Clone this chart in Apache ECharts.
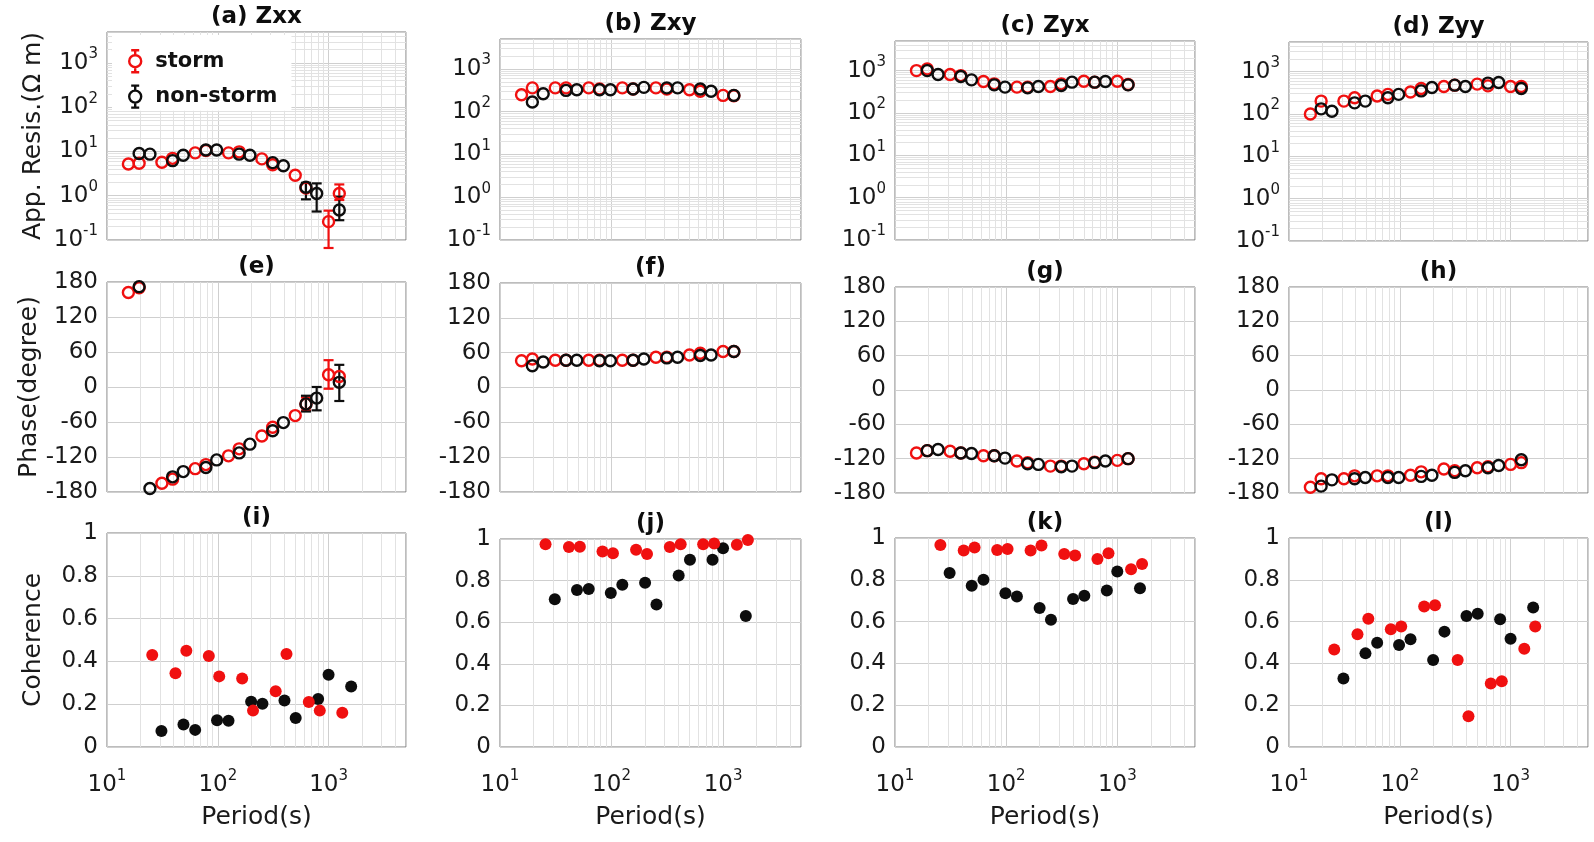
<!DOCTYPE html>
<html>
<head>
<meta charset="utf-8">
<title>Storm vs non-storm MT responses</title>
<script src="https://cdn.jsdelivr.net/npm/echarts/dist/echarts.min.js"></script>
<style>
  html, body { margin: 0; padding: 0; background: #fff; }
  #main { width: 1594px; height: 842px; }
</style>
</head>
<body>
<div id="main"></div>
<script>
// periods (s) of the impedance estimates
var periodStorm = [15.6, 19.5, 31.3, 39.1, 62.5, 78.1, 125, 156, 250, 313, 500, 625, 1000, 1250];
var periodCalm = [19.5, 24.4, 39.1, 48.8, 78.1, 97.7, 156, 195, 313, 391, 625, 781, 1250];

// apparent resistivity (ohm m)
var rhoXXStorm = [5.2, 5.4, 5.7, 7.0, 9.3, 10.5, 9.3, 9.8, 6.8, 5.0, 2.9, 1.5, 0.26, 1.12];
var rhoXXCalm = [9.0, 8.7, 6.2, 8.2, 10.8, 10.8, 8.7, 8.2, 5.6, 4.75, 1.55, 1.12, 0.475];
var rhoXYStorm = [248, 360, 360, 360, 360, 340, 360, 340, 360, 340, 325, 300, 240, 235];
var rhoXYCalm = [168, 263, 314, 325, 325, 325, 340, 370, 360, 360, 340, 300, 240];
var rhoYXStorm = [1000, 1090, 806, 763, 552, 487, 407, 407, 422, 487, 562, 533, 562, 470];
var rhoYXCalm = [1000, 806, 723, 604, 461, 407, 392, 422, 445, 533, 533, 552, 461];
var rhoYYStorm = [100, 201, 201, 242, 265, 290, 331, 398, 444, 479, 506, 461, 444, 444];
var rhoYYCalm = [132, 116, 183, 201, 242, 290, 350, 421, 479, 444, 535, 555, 398];

// error bars [low, high], only where they show
var rhoXXStormErr = [null, null, null, null, null, null, null, null, null, null, null, null, [0.066, 0.46], [0.8, 1.8]];
var rhoXXCalmErr = [null, null, null, null, null, null, null, null, null, null, [0.83, 1.96], [0.44, 1.9], [0.28, 0.95]];

// phase (degree)
var phaseXXStorm = [162, 170, -165, -158, -140, -133, -118, -106, -84, -69, -49, -29, 21, 18];
var phaseXXCalm = [172, -174, -154, -145, -138, -125, -113, -98, -75, -61, -29, -19, 8];
var phaseXYStorm = [46, 49, 47, 47, 47, 47, 47, 47, 52, 52, 56, 59, 62, 62];
var phaseXYCalm = [37.5, 44, 47, 47, 46, 46, 47, 49, 51, 52, 55, 56, 62];
var phaseYXStorm = [-110, -106, -107, -110, -115, -115, -124, -127, -133, -133, -129, -126, -123, -120];
var phaseYXCalm = [-106, -104, -110, -111, -115, -119, -129, -130, -134, -133, -127, -124, -120];
var phaseYYStorm = [-170, -155, -155, -150, -150, -150, -149, -143, -138, -141, -136, -134, -130, -127];
var phaseYYCalm = [-168, -157, -155, -153, -153, -153, -151, -149, -144, -141, -136, -132, -122];

var phaseXXStormErr = [null, null, null, null, null, null, null, null, null, null, null, [-40, -18], [-3, 46], null];
var phaseXXCalmErr = [null, null, null, null, null, null, null, null, null, null, [-42, -15], [-40, 0], [-24, 38]];

// coherence
var cohPeriodStorm = [25.6, 41.5, 52, 83, 103, 166, 208, 333, 417, 663, 833, 1330, 1670];
var cohPeriodCalm = [31, 49, 62.5, 98.5, 125, 200, 253, 400, 505, 805, 1000, 1600];
var cohXXStorm = [0.43, 0.345, 0.45, 0.425, 0.33, 0.32, 0.17, 0.26, 0.435, 0.21, 0.17, 0.16, null];
var cohXXCalm = [0.075, 0.105, 0.08, 0.125, 0.123, 0.212, 0.202, 0.217, 0.136, 0.224, 0.338, 0.283];
var cohXYStorm = [0.975, 0.962, 0.963, 0.94, 0.932, 0.948, 0.928, 0.962, 0.975, 0.975, 0.978, 0.972, 0.995];
var cohXYCalm = [0.71, 0.755, 0.76, 0.74, 0.78, 0.79, 0.685, 0.825, 0.9, 0.9, 0.955, 0.63];
var cohYXStorm = [0.967, 0.94, 0.955, 0.943, 0.947, 0.94, 0.964, 0.923, 0.916, 0.899, 0.927, 0.851, 0.876];
var cohYXCalm = [0.832, 0.771, 0.8, 0.736, 0.72, 0.665, 0.609, 0.708, 0.724, 0.749, 0.84, 0.76];
var cohYYStorm = [0.467, 0.539, 0.614, 0.563, 0.576, 0.672, 0.678, 0.416, 0.147, 0.304, 0.315, 0.47, 0.576];
var cohYYCalm = [0.328, 0.448, 0.499, 0.488, 0.515, 0.416, 0.552, 0.627, 0.638, 0.611, 0.518, 0.667];

var titles = ['(a) Zxx', '(b) Zxy', '(c) Zyx', '(d) Zyy', '(e)', '(f)', '(g)', '(h)', '(i)', '(j)', '(k)', '(l)'];

var FONT = 'DejaVu Sans';
var RED = '#f01010';
var BLACK = '#0d0d0d';
var TEXT = '#1a1a1a';

// subplot layout (px)
var colLeft = [107, 500, 895, 1289];
var colWidth = [299, 301, 300, 299];
var gridTop = [[32, 39, 41, 42], [282, 283, 287, 287], [533, 539, 538, 538]];
var gridBottom = [[240, 240, 240, 241], [492, 492, 493, 493], [747, 747, 747, 747]];

var chart = echarts.init(document.getElementById('main'));

var supRich = { sup: { fontFamily: FONT, fontSize: 15, lineHeight: 15, verticalAlign: 'top', color: TEXT } };

function decadeLabel(v) {
  var e = Math.log10(v);
  var r = Math.round(e);
  if (Math.abs(e - r) > 1e-3) return '';
  return '10{sup|' + r + '}';
}

function pairs(xs, ys) {
  var out = [];
  for (var k = 0; k < xs.length; k++) {
    if (ys[k] != null) out.push([xs[k], ys[k]]);
  }
  return out;
}

function errPairs(xs, errs) {
  var out = [];
  for (var k = 0; k < xs.length; k++) {
    if (errs[k]) out.push([xs[k], errs[k][0], errs[k][1]]);
  }
  return out;
}

// matlab style minor grid at 2..9 x decade
var minorX = [];
var minorY = [];
[10, 100, 1000].forEach(function (d) {
  for (var m = 2; m <= 9; m++) if (d * m < 5000) minorX.push(d * m);
});
[0.1, 1, 10, 100, 1000].forEach(function (d) {
  for (var m = 2; m <= 9; m++) if (d * m < 5000) minorY.push(d * m);
});

function gridMarks(row) {
  var data = minorX.map(function (v) { return { xAxis: v }; });
  if (row === 0) data = data.concat(minorY.map(function (v) { return { yAxis: v }; }));
  return {
    silent: true,
    z: 1,
    symbol: ['none', 'none'],
    label: { show: false },
    lineStyle: { color: '#e2e2e2', width: 1, type: 'solid' },
    animation: false,
    data: data
  };
}

function errorBar(color) {
  return function (params, api) {
    var hi = api.coord([api.value(0), api.value(2)]);
    var lo = api.coord([api.value(0), api.value(1)]);
    var s = { stroke: color, lineWidth: 2.2 };
    return {
      type: 'group',
      children: [
        { type: 'line', shape: { x1: hi[0], y1: hi[1], x2: lo[0], y2: lo[1] }, style: s },
        { type: 'line', shape: { x1: hi[0] - 5, y1: hi[1], x2: hi[0] + 5, y2: hi[1] }, style: s },
        { type: 'line', shape: { x1: lo[0] - 5, y1: lo[1], x2: lo[0] + 5, y2: lo[1] }, style: s }
      ]
    };
  };
}

function hollow(name, idx, data, color) {
  return {
    name: name, type: 'scatter', xAxisIndex: idx, yAxisIndex: idx, data: data,
    symbol: 'circle', symbolSize: 11, silent: true,
    itemStyle: { color: 'rgba(0,0,0,0)', borderColor: color, borderWidth: 2.4, opacity: 1 }
  };
}

function filled(name, idx, data, color) {
  return {
    name: name, type: 'scatter', xAxisIndex: idx, yAxisIndex: idx, data: data,
    symbol: 'circle', symbolSize: 12, silent: true,
    itemStyle: { color: color, opacity: 1 }
  };
}

function errSeries(name, idx, data, color) {
  return {
    name: name, type: 'custom', xAxisIndex: idx, yAxisIndex: idx, data: data,
    encode: { x: 0, y: [1, 2] }, renderItem: errorBar(color), silent: true, clip: false
  };
}

var panels = [
  [rhoXXStorm, rhoXXCalm, rhoXXStormErr, rhoXXCalmErr],
  [rhoXYStorm, rhoXYCalm],
  [rhoYXStorm, rhoYXCalm],
  [rhoYYStorm, rhoYYCalm],
  [phaseXXStorm, phaseXXCalm, phaseXXStormErr, phaseXXCalmErr],
  [phaseXYStorm, phaseXYCalm],
  [phaseYXStorm, phaseYXCalm],
  [phaseYYStorm, phaseYYCalm],
  [cohXXStorm, cohXXCalm],
  [cohXYStorm, cohXYCalm],
  [cohYXStorm, cohYXCalm],
  [cohYYStorm, cohYYCalm]
];

var yNames = ['App. Resis.(\u03A9 m)', 'Phase(degree)', 'Coherence'];

var grids = [], xAxes = [], yAxes = [], titleList = [], series = [];

panels.forEach(function (p, i) {
  var r = Math.floor(i / 4), c = i % 4;
  var top = gridTop[r][c];
  grids.push({
    left: colLeft[c], top: top, width: colWidth[c], height: gridBottom[r][c] - top,
    show: true, borderColor: '#7a7a7a', borderWidth: 1
  });

  titleList.push({
    text: titles[i], left: colLeft[c] + colWidth[c] / 2, top: top - 3,
    textAlign: 'center', textVerticalAlign: 'bottom', padding: 0,
    textStyle: { fontFamily: FONT, fontSize: 23, fontWeight: 'bold', color: '#0d0d0d' }
  });

  xAxes.push({
    type: 'log', logBase: 10, gridIndex: i, min: 10, max: 5000,
    axisLine: { show: false }, axisTick: { show: false },
    splitLine: { show: true, lineStyle: { color: '#cfcfcf', width: 1 } },
    axisLabel: r === 2 ? {
      show: true, formatter: decadeLabel, margin: 22, lineHeight: 32,
      fontFamily: FONT, fontSize: 23, color: TEXT, rich: supRich
    } : { show: false },
    name: r === 2 ? 'Period(s)' : '',
    nameLocation: 'middle', nameGap: 58,
    nameTextStyle: { fontFamily: FONT, fontSize: 25, color: TEXT }
  });

  var y = {
    gridIndex: i,
    axisLine: { show: false }, axisTick: { show: false },
    splitLine: { show: true, lineStyle: { color: '#cfcfcf', width: 1 } },
    axisLabel: { margin: 9, fontFamily: FONT, fontSize: 23, color: TEXT },
    name: c === 0 ? yNames[r] : '',
    nameLocation: 'middle', nameGap: 61,
    nameTextStyle: { fontFamily: FONT, fontSize: 25, color: TEXT }
  };
  if (r === 0) {
    y.type = 'log'; y.logBase = 10; y.min = 0.1; y.max = 5000;
    y.axisLabel.formatter = decadeLabel;
    y.axisLabel.lineHeight = 32;
    y.axisLabel.rich = supRich;
  } else if (r === 1) {
    y.type = 'value'; y.min = -180; y.max = 180; y.interval = 60;
  } else {
    y.type = 'value'; y.min = 0; y.max = 1; y.interval = 0.2;
  }
  yAxes.push(y);

  if (r < 2) {
    if (p[2]) series.push(errSeries('storm', i, errPairs(periodStorm, p[2]), RED));
    var s1 = hollow('storm', i, pairs(periodStorm, p[0]), RED);
    s1.markLine = gridMarks(r);
    series.push(s1);
    if (p[3]) series.push(errSeries('non-storm', i, errPairs(periodCalm, p[3]), BLACK));
    series.push(hollow('non-storm', i, pairs(periodCalm, p[1]), BLACK));
  } else {
    var s2 = filled('non-storm', i, pairs(cohPeriodCalm, p[1]), BLACK);
    s2.markLine = gridMarks(r);
    series.push(s2);
    series.push(filled('storm', i, pairs(cohPeriodStorm, p[0]), RED));
  }
});

var errIcon = 'path://M6 0L6 5M6 17L6 22M2 0L10 0M2 22L10 22M12 11A6 6 0 1 1 0 11A6 6 0 1 1 12 11Z';

var option = {
  backgroundColor: '#fff',
  animation: false,
  title: titleList,
  legend: {
    orient: 'vertical', left: 112, top: 35,
    padding: [14, 14, 2, 16], itemGap: 11, itemWidth: 30, itemHeight: 22,
    backgroundColor: '#fff', selectedMode: false,
    textStyle: { fontFamily: FONT, fontSize: 21, fontWeight: 'bold', color: '#111' },
    data: [
      { name: 'storm', icon: errIcon, itemStyle: { color: 'rgba(0,0,0,0)', borderColor: RED, borderWidth: 2.4 } },
      { name: 'non-storm', icon: errIcon, itemStyle: { color: 'rgba(0,0,0,0)', borderColor: BLACK, borderWidth: 2.4 } }
    ]
  },
  grid: grids,
  xAxis: xAxes,
  yAxis: yAxes,
  series: series
};

chart.setOption(option);
</script>
</body>
</html>
